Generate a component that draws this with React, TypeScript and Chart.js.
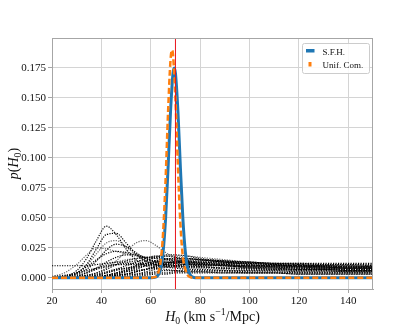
import React, { useEffect, useRef } from 'react';
import { Chart, registerables } from 'chart.js';

Chart.register(...registerables);

// ---------------- data ----------------
const X_TICKS = [20, 40, 60, 80, 100, 120, 140];
const Y_TICKS = [0, 0.025, 0.05, 0.075, 0.1, 0.125, 0.15, 0.175];
const X_MIN = 20;
const X_MAX = 150;
const Y_MIN = -0.0094;
const Y_MAX = 0.2;
const TRUE_H0 = 70;

// S.F.H. posterior
const SFH_H = [20, 60, 62, 63, 64, 65, 66, 67, 68, 69, 69.5, 70, 71, 72, 73, 74, 75, 76, 77, 78, 80, 150];
const SFH_P = [0, 0, 0.0005, 0.0022, 0.0077, 0.0216, 0.0494, 0.0917, 0.1387, 0.1705, 0.175, 0.1705, 0.1387, 0.0917, 0.0494, 0.0216, 0.0077, 0.0022, 0.0005, 0, 0, 0];

// Uniform comoving posterior
const UC_H = [20, 60, 62, 63, 64, 65, 66, 67, 68, 68.6, 69, 70, 71, 72, 73, 74, 75, 76, 77, 78, 150];
const UC_P = [0, 0, 0.0008, 0.0038, 0.0135, 0.0376, 0.0816, 0.138, 0.1816, 0.19, 0.1862, 0.1487, 0.0925, 0.0448, 0.0175, 0.007, 0.002, 0.0005, 0, 0, 0];

// individual event posteriors (dotted)
const EVENT_H = [20, 25, 30, 34, 38, 42, 46, 50, 54, 58, 62, 66, 70, 75, 80, 90, 100, 110, 120, 130, 140, 150];
const EVENT_P = [
  [0, 0.001, 0.006, 0.016, 0.031, 0.043, 0.036, 0.024, 0.015, 0.010, 0.008, 0.007, 0.006, 0.005, 0.005, 0.004, 0.004, 0.004, 0.003, 0.003, 0.003, 0.003],
  [0, 0.001, 0.004, 0.011, 0.024, 0.036, 0.037, 0.029, 0.020, 0.014, 0.011, 0.009, 0.008, 0.007, 0.007, 0.006, 0.005, 0.005, 0.004, 0.004, 0.004, 0.004],
  [0, 0.001, 0.004, 0.010, 0.020, 0.029, 0.031, 0.026, 0.019, 0.014, 0.011, 0.010, 0.009, 0.008, 0.008, 0.007, 0.006, 0.006, 0.005, 0.005, 0.005, 0.005],
  [0, 0.001, 0.003, 0.007, 0.014, 0.023, 0.028, 0.026, 0.021, 0.016, 0.013, 0.011, 0.010, 0.009, 0.009, 0.008, 0.007, 0.007, 0.006, 0.006, 0.005, 0.005],
  [0.001, 0.004, 0.011, 0.019, 0.025, 0.024, 0.022, 0.020, 0.018, 0.017, 0.016, 0.015, 0.014, 0.013, 0.012, 0.011, 0.010, 0.009, 0.008, 0.008, 0.007, 0.007],
  [0, 0, 0.001, 0.002, 0.004, 0.008, 0.014, 0.022, 0.029, 0.031, 0.027, 0.021, 0.017, 0.014, 0.012, 0.010, 0.008, 0.007, 0.006, 0.006, 0.005, 0.005],
  [0.010, 0.010, 0.010, 0.010, 0.011, 0.012, 0.013, 0.013, 0.014, 0.014, 0.014, 0.013, 0.013, 0.012, 0.012, 0.011, 0.010, 0.010, 0.009, 0.009, 0.008, 0.008],
  [0, 0.001, 0.004, 0.009, 0.015, 0.020, 0.022, 0.021, 0.019, 0.016, 0.014, 0.013, 0.012, 0.011, 0.011, 0.010, 0.009, 0.009, 0.008, 0.008, 0.007, 0.007],
  [0, 0, 0.001, 0.004, 0.008, 0.013, 0.017, 0.019, 0.019, 0.017, 0.016, 0.015, 0.014, 0.013, 0.012, 0.011, 0.010, 0.010, 0.009, 0.009, 0.008, 0.008],
  [0, 0, 0.001, 0.002, 0.004, 0.007, 0.011, 0.014, 0.016, 0.017, 0.017, 0.016, 0.015, 0.014, 0.013, 0.012, 0.011, 0.010, 0.010, 0.009, 0.009, 0.008],
  [0, 0, 0, 0.001, 0.002, 0.004, 0.007, 0.010, 0.013, 0.016, 0.018, 0.018, 0.017, 0.016, 0.015, 0.013, 0.012, 0.011, 0.010, 0.010, 0.009, 0.009],
  [0, 0, 0, 0, 0.001, 0.002, 0.004, 0.007, 0.010, 0.014, 0.017, 0.019, 0.019, 0.018, 0.016, 0.014, 0.012, 0.011, 0.010, 0.009, 0.008, 0.008],
  [0, 0, 0, 0, 0, 0.001, 0.003, 0.005, 0.007, 0.010, 0.013, 0.015, 0.016, 0.016, 0.015, 0.014, 0.013, 0.012, 0.011, 0.010, 0.010, 0.009],
  [0, 0, 0, 0, 0, 0.001, 0.002, 0.003, 0.005, 0.007, 0.010, 0.012, 0.014, 0.015, 0.015, 0.014, 0.013, 0.012, 0.012, 0.011, 0.011, 0.010],
  [0, 0.001, 0.002, 0.004, 0.007, 0.009, 0.011, 0.012, 0.012, 0.012, 0.012, 0.011, 0.011, 0.011, 0.010, 0.010, 0.009, 0.009, 0.009, 0.008, 0.008, 0.008],
  [0.001, 0.002, 0.004, 0.006, 0.008, 0.010, 0.011, 0.011, 0.011, 0.011, 0.011, 0.010, 0.010, 0.010, 0.010, 0.010, 0.010, 0.010, 0.010, 0.010, 0.010, 0.010],
  [0, 0, 0, 0.001, 0.001, 0.002, 0.004, 0.006, 0.008, 0.010, 0.011, 0.012, 0.013, 0.013, 0.013, 0.012, 0.012, 0.011, 0.011, 0.011, 0.011, 0.011],
  [0, 0, 0, 0, 0, 0.001, 0.002, 0.003, 0.005, 0.007, 0.009, 0.011, 0.012, 0.013, 0.013, 0.013, 0.013, 0.012, 0.012, 0.012, 0.012, 0.012],
  [0, 0, 0, 0.001, 0.002, 0.004, 0.006, 0.008, 0.010, 0.012, 0.013, 0.013, 0.013, 0.012, 0.011, 0.010, 0.009, 0.008, 0.007, 0.007, 0.006, 0.006],
  [0, 0, 0, 0, 0.001, 0.002, 0.004, 0.006, 0.009, 0.012, 0.014, 0.016, 0.016, 0.016, 0.015, 0.013, 0.011, 0.009, 0.008, 0.007, 0.006, 0.006],
  [0, 0, 0, 0, 0, 0, 0.001, 0.002, 0.003, 0.005, 0.007, 0.009, 0.010, 0.011, 0.011, 0.011, 0.010, 0.010, 0.010, 0.009, 0.009, 0.009],
  [0, 0, 0, 0.001, 0.001, 0.002, 0.003, 0.005, 0.006, 0.007, 0.008, 0.009, 0.009, 0.009, 0.009, 0.008, 0.008, 0.008, 0.007, 0.007, 0.007, 0.007],
  [0, 0, 0, 0, 0.001, 0.001, 0.002, 0.003, 0.003, 0.004, 0.005, 0.006, 0.006, 0.006, 0.006, 0.006, 0.006, 0.006, 0.005, 0.005, 0.005, 0.005],
  [0, 0, 0, 0, 0, 0, 0.001, 0.001, 0.002, 0.003, 0.004, 0.004, 0.005, 0.005, 0.005, 0.005, 0.004, 0.004, 0.004, 0.004, 0.004, 0.004],
  [0, 0, 0, 0, 0.001, 0.001, 0.002, 0.003, 0.005, 0.007, 0.009, 0.011, 0.013, 0.014, 0.014, 0.013, 0.012, 0.011, 0.010, 0.010, 0.009, 0.009],
  [0, 0.001, 0.003, 0.005, 0.008, 0.011, 0.013, 0.015, 0.016, 0.017, 0.018, 0.018, 0.018, 0.018, 0.017, 0.015, 0.013, 0.011, 0.009, 0.008, 0.007, 0.007],
  [0, 0, 0, 0, 0, 0, 0, 0.001, 0.001, 0.002, 0.003, 0.003, 0.004, 0.004, 0.004, 0.004, 0.004, 0.004, 0.003, 0.003, 0.003, 0.003],
  [0, 0, 0.001, 0.002, 0.003, 0.005, 0.007, 0.008, 0.009, 0.010, 0.010, 0.010, 0.010, 0.009, 0.009, 0.008, 0.008, 0.007, 0.007, 0.007, 0.006, 0.006],
];
const EVENT_ALPHA = [0.95, 1, 0.6, 1, 0.6, 0.6, 1, 1, 1, 1, 1, 1, 1, 1, 1, 1, 1, 1, 1, 1, 1, 1, 1, 1, 1, 0.6, 1, 1];

const LEGEND_LABELS = ['S.F.H.', 'Unif. Com.'];

type Seg = { t: string; italic?: boolean; scale?: number; dy?: number };
const X_TITLE: Seg[] = [
  { t: 'H', italic: true },
  { t: '0', scale: 0.7, dy: 0.22 },
  { t: ' (km s' },
  { t: '\u22121', scale: 0.7, dy: -0.38 },
  { t: '/Mpc)' },
];
const Y_TITLE: Seg[] = [
  { t: 'p', italic: true },
  { t: '(' },
  { t: 'H', italic: true },
  { t: '0', scale: 0.7, dy: 0.22 },
  { t: ')' },
];

// ---------------- style ----------------
const FONT = '"Liberation Serif", "Times New Roman", serif';
const BLUE = '#1f77b4';
const ORANGE = '#ff7f0e';
const GRID = '#d4d4d4';
const SPINE = '#a6a6a6';
const TEXT = '#111111';

function drawRich(ctx: CanvasRenderingContext2D, segs: Seg[], x: number, y: number, size: number) {
  const fontOf = (s: Seg) => `${s.italic ? 'italic ' : ''}${(size * (s.scale || 1)).toFixed(1)}px ${FONT}`;
  let total = 0;
  for (const s of segs) {
    ctx.font = fontOf(s);
    total += ctx.measureText(s.t).width;
  }
  let cx = x - total / 2;
  ctx.textAlign = 'left';
  ctx.textBaseline = 'alphabetic';
  for (const s of segs) {
    ctx.font = fontOf(s);
    ctx.fillText(s.t, cx, y + (s.dy || 0) * size);
    cx += ctx.measureText(s.t).width;
  }
}

const decorPlugin = {
  id: 'decor',
  afterDraw(chart: any) {
    const ctx: CanvasRenderingContext2D = chart.ctx;
    const a = chart.chartArea;
    ctx.save();
    // frame (top & right spines)
    ctx.strokeStyle = SPINE;
    ctx.lineWidth = 1;
    ctx.beginPath();
    ctx.moveTo(a.left, Math.round(a.top) + 0.5);
    ctx.lineTo(a.right, Math.round(a.top) + 0.5);
    ctx.moveTo(Math.round(a.right) - 0.5, a.top);
    ctx.lineTo(Math.round(a.right) - 0.5, a.bottom);
    ctx.stroke();

    // axis titles
    ctx.fillStyle = TEXT;
    drawRich(ctx, X_TITLE, (a.left + a.right) / 2, 320.5, 14);
    ctx.save();
    ctx.translate(17.5, (a.top + a.bottom) / 2);
    ctx.rotate(-Math.PI / 2);
    drawRich(ctx, Y_TITLE, 0, 0, 14);
    ctx.restore();

    // legend
    const lw = 67, lh = 30;
    const lx = a.right - 4 - lw;
    const ly = a.top + 5;
    ctx.fillStyle = 'rgba(255,255,255,0.85)';
    ctx.strokeStyle = '#cccccc';
    ctx.beginPath();
    (ctx as any).roundRect ? (ctx as any).roundRect(lx + 0.5, ly + 0.5, lw, lh, 2) : ctx.rect(lx + 0.5, ly + 0.5, lw, lh);
    ctx.fill();
    ctx.stroke();
    const ds = chart.data.datasets;
    ctx.fillStyle = ds[0].borderColor;
    ctx.fillRect(lx + 4, ly + 6, 8.5, 3.5);
    ctx.fillStyle = ds[1].borderColor;
    ctx.fillRect(lx + 6.5, ly + 19, 3, 4.5);
    ctx.fillStyle = TEXT;
    ctx.font = `9px ${FONT}`;
    ctx.textAlign = 'left';
    ctx.textBaseline = 'alphabetic';
    ctx.fillText(ds[0].label, lx + 20.5, ly + 12);
    ctx.fillText(ds[1].label, lx + 20.5, ly + 24.5);
    ctx.restore();
  },
};

export default function App() {
  const ref = useRef<HTMLCanvasElement>(null);

  useEffect(() => {
    if (!ref.current) return;
    const events = EVENT_P.map((p, i) => ({
      label: `event ${i + 1}`,
      data: EVENT_H.map((h, j) => ({ x: h, y: p[j] })),
      borderColor: `rgba(0,0,0,${EVENT_ALPHA[i]})`,
      borderWidth: 1.2,
      borderDash: [1.2, 1.3],
      pointRadius: 0,
      cubicInterpolationMode: 'monotone' as const,
      order: 10,
    }));
    const chart = new Chart(ref.current, {
      type: 'line',
      plugins: [decorPlugin],
      data: {
        datasets: [
          {
            label: LEGEND_LABELS[0],
            data: SFH_H.map((h, j) => ({ x: h, y: SFH_P[j] })),
            borderColor: BLUE,
            borderWidth: 3,
            pointRadius: 0,
            cubicInterpolationMode: 'monotone',
            order: 3,
          },
          {
            label: LEGEND_LABELS[1],
            data: UC_H.map((h, j) => ({ x: h, y: UC_P[j] })),
            borderColor: ORANGE,
            borderWidth: 2.5,
            borderDash: [6, 3],
            pointRadius: 0,
            cubicInterpolationMode: 'monotone',
            order: 2,
          },
          {
            label: 'true H0',
            data: [
              { x: TRUE_H0, y: Y_MIN },
              { x: TRUE_H0, y: Y_MAX },
            ],
            borderColor: '#e8141c',
            borderWidth: 1,
            pointRadius: 0,
            order: 1,
          },
          ...events,
        ],
      },
      options: {
        animation: false,
        responsive: false,
        layout: { padding: { top: 38, right: 42, left: 0, bottom: 0 } },
        plugins: {
          legend: { display: false },
          tooltip: { enabled: false },
          title: { display: false },
        },
        scales: {
          x: {
            type: 'linear',
            min: X_MIN,
            max: X_MAX,
            afterBuildTicks: (s: any) => {
              s.ticks = X_TICKS.map((v) => ({ value: v }));
            },
            afterFit: (s: any) => {
              s.height = 36;
            },
            ticks: {
              autoSkip: false,
              maxRotation: 0,
              padding: 2,
              color: TEXT,
              font: { family: FONT, size: 11 },
              callback: (v: any) => String(v),
            },
            grid: { color: GRID, tickColor: SPINE, tickLength: 4, lineWidth: 1 },
            border: { color: SPINE, width: 1 },
          },
          y: {
            type: 'linear',
            min: Y_MIN,
            max: Y_MAX,
            afterBuildTicks: (s: any) => {
              s.ticks = Y_TICKS.map((v) => ({ value: v }));
            },
            afterFit: (s: any) => {
              s.width = 52;
            },
            ticks: {
              autoSkip: false,
              padding: 2,
              color: TEXT,
              font: { family: FONT, size: 11 },
              callback: (v: any) => Number(v).toFixed(3),
            },
            grid: { color: GRID, tickColor: SPINE, tickLength: 4, lineWidth: 1 },
            border: { color: SPINE, width: 1 },
          },
        },
      },
    } as any);
    return () => chart.destroy();
  }, []);

  return (
    <div style={{ position: 'absolute', left: 0, top: 0, width: 415, height: 325, background: '#fff' }}>
      <canvas ref={ref} width={415} height={325} style={{ width: 415, height: 325 }} />
    </div>
  );
}
